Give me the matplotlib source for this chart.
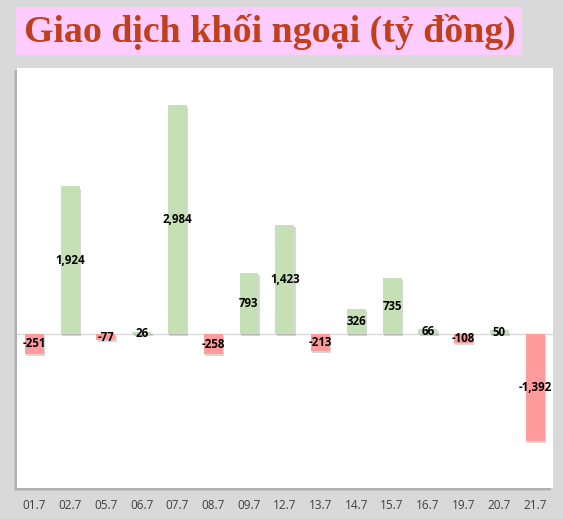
import matplotlib
matplotlib.use('Agg')
import matplotlib.pyplot as plt
import matplotlib.patheffects as pe
from matplotlib.patches import Rectangle

# data
dates = ['01.7', '02.7', '05.7', '06.7', '07.7', '08.7', '09.7', '12.7',
         '13.7', '14.7', '15.7', '16.7', '19.7', '20.7', '21.7']
values = [-251, 1924, -77, 26, 2984, -258, 793, 1423,
          -213, 326, 735, 66, -108, 50, -1392]
title = 'Giao dịch khối ngoại (tỷ đồng)'

green = '#C5E0B4'
red = '#FF9B9B'
bg = '#D9D9D9'

W, H = 563, 519
fig = plt.figure(figsize=(W / 100, H / 100), dpi=100)
fig.patch.set_facecolor(bg)

# title box
fig.patches.append(Rectangle((16 / W, 1 - 55 / H), (522 - 16) / W, 48 / H,
                             transform=fig.transFigure, facecolor='#FFCCFF',
                             edgecolor='none', zorder=0))
fig.text(24 / W, 1 - 32 / H, title, family='Liberation Serif', weight='bold',
         fontsize=27.3, color='#C0401E', va='center', ha='left')

# plot area with a soft shadow on the left / bottom
left, right, top, bottom = 16.5, 553, 67.7, 488
for off, col in [(3, '#C4C4C4'), (2, '#B0B0B0')]:
    sh = fig.add_axes([(left - off) / W, 1 - (bottom + off) / H,
                       (right - left) / W, (bottom - top) / H])
    sh.set_facecolor(col)
    sh.set_xticks([])
    sh.set_yticks([])
    for s in sh.spines.values():
        s.set_visible(False)
    sh.set_zorder(0)

ax = fig.add_axes([left / W, 1 - bottom / H, (right - left) / W, (bottom - top) / H])
ax.set_zorder(1)
ax.set_facecolor('white')

x = list(range(len(dates)))
colors = [green if v >= 0 else red for v in values]
bars = ax.bar(x, values, width=0.53, color=colors, zorder=3)
for b in bars:
    b.set_path_effects([pe.SimplePatchShadow(offset=(1, -1.5), alpha=0.2), pe.Normal()])

ax.axhline(0, color='#D9D9D9', lw=1, zorder=2)

for xi, v in zip(x, values):
    ax.text(xi, v / 2, f'{v:,}', ha='center', va='center', family='Open Sans',
            weight='bold', fontsize=8.3, color='black', zorder=4)

ax.set_xlim(-0.5, len(dates) - 0.5)
ax.set_ylim(-2000, 3470)
ax.set_yticks([])
ax.set_xticks(x)
ax.set_xticklabels(dates, family='Open Sans', fontsize=8.5, color='#404040')
ax.tick_params(axis='x', length=0, pad=8)
for s in ax.spines.values():
    s.set_visible(False)

fig.savefig('out.png', dpi=100, facecolor=bg)
